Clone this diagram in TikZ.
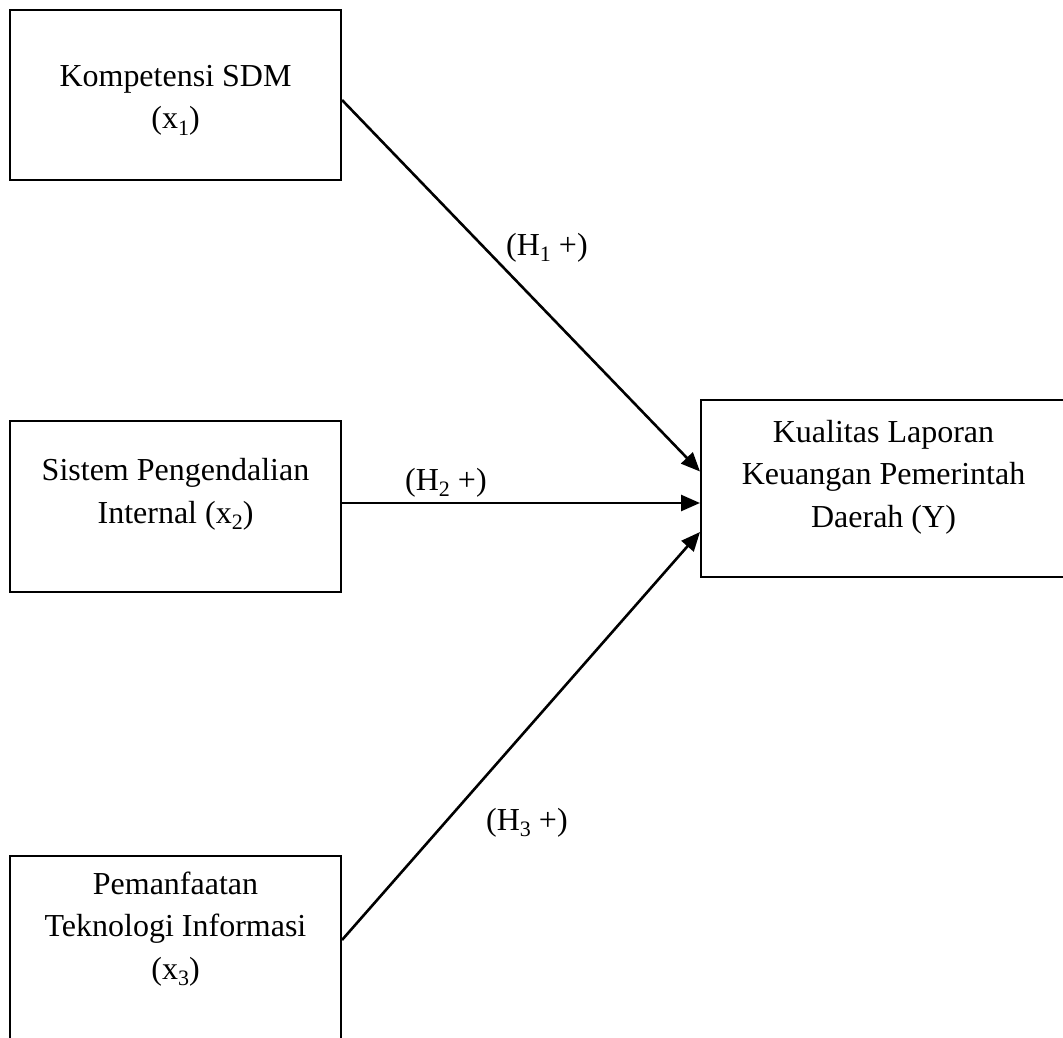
\documentclass[tikz,border=0pt]{standalone}
\usepackage{fontspec}
\setmainfont{Liberation Serif}
\usetikzlibrary{arrows.meta,calc}
\newcommand\mysub[1]{\raisebox{-6pt}{\fontsize{22}{22}\selectfont #1}}
\begin{document}
\begin{tikzpicture}[x=1pt,y=-1pt,
 box/.style={draw, line width=2pt, inner sep=0pt},
 lbl/.style={font=\fontsize{32}{42}\selectfont, inner sep=0pt},
 conn/.style={line width=2.6pt, -{Triangle[length=19pt,width=16pt]}},
]
\useasboundingbox (0,0) rectangle (1063,1038);
\clip (0,0) rectangle (1063,1038);
% boxes
\node[box, minimum width=331pt, minimum height=170pt] (b1) at (175.5,95) {};
\node[box, minimum width=331pt, minimum height=171pt] (b2) at (175.5,506.5) {};
\node[box, minimum width=331pt, minimum height=204pt] (b3) at (175.5,958) {};
\node[box, minimum width=365pt, minimum height=177pt] (y) at (883.5,488.5) {};
% texts
\node[lbl, anchor=base] (t1a) at (175.5,87) {Kompetensi SDM};
\node[lbl, anchor=base] (t1b) at (175.5,129) {(x\mysub{1})};
\node[lbl, anchor=base] (t2a) at (175.5,480) {Sistem Pengendalian};
\node[lbl, anchor=base] (t2b) at (175.5,523) {Internal (x\mysub{2})};
\node[lbl, anchor=base] (t3a) at (175.5,894) {Pemanfaatan};
\node[lbl, anchor=base] (t3b) at (175.5,936) {Teknologi Informasi};
\node[lbl, anchor=base] (t3c) at (175.5,979) {(x\mysub{3})};
\node[lbl, anchor=base] (tya) at (883.5,442) {Kualitas Laporan};
\node[lbl, anchor=base] (tyb) at (883.5,484) {Keuangan Pemerintah};
\node[lbl, anchor=base] (tyc) at (883.5,527) {Daerah (Y)};
% connectors
\draw[conn] ($(b1.east)+(0,5)$) -- ($(y.west)+(0,-17)$);
\draw[conn] ($(b2.east)+(0,-3.5)$) -- ($(y.west)+(0,14.5)$);
\draw[conn] ($(b3.east)+(0,-18)$) -- ($(y.west)+(0,43.5)$);
% connector labels
\node[lbl, anchor=base west] (h1) at (506,255) {(H\mysub{1} +)};
\node[lbl, anchor=base west] (h2) at (405,490) {(H\mysub{2} +)};
\node[lbl, anchor=base west] (h3) at (486,830) {(H\mysub{3} +)};
\end{tikzpicture}
\end{document}
